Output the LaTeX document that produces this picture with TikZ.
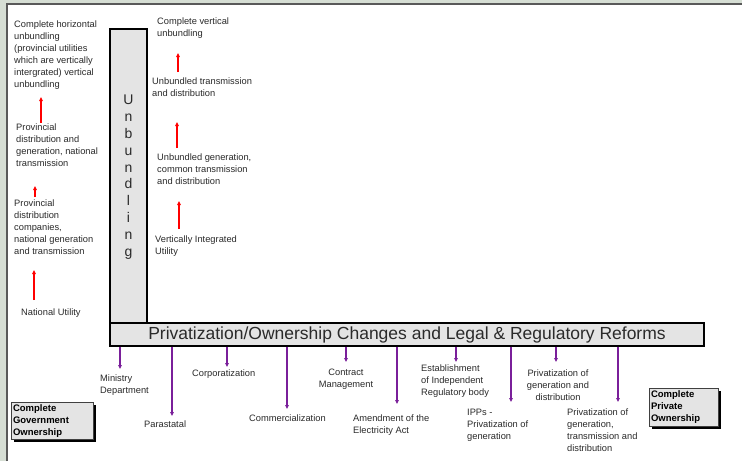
\documentclass[tikz,border=0pt]{standalone}
\usepackage{fontspec}
\setmainfont{Liberation Sans}
\usetikzlibrary{arrows.meta,shadows}
\definecolor{frameclr}{HTML}{D6DED4}
\definecolor{txtclr}{HTML}{2A2A2A}
\definecolor{boxfill}{HTML}{E4E4E4}
\definecolor{purp}{HTML}{7A1F9A}
\begin{document}
\begin{tikzpicture}[x=1pt,y=-1pt,
  txt/.style={font=\fontsize{9.3}{12}\selectfont, text=txtclr, inner sep=0pt, align=left, anchor=base west},
  ctxt/.style={font=\fontsize{9.3}{12}\selectfont, text=txtclr, inner sep=0pt, align=center, anchor=base},
  redarr/.style={draw=red, line width=1.2pt, -{Triangle[length=4pt,width=3.5pt]}},
  purarr/.style={draw=purp, line width=1.2pt, -{Triangle[length=4pt,width=3.5pt]}},
  graybox/.style={draw=black, line width=1.2pt, fill=boxfill, inner sep=0pt},
  ownbox/.style={draw=black!75, line width=0.8pt, fill=boxfill, inner sep=2pt, align=left,
    font=\fontsize{9.5}{12}\selectfont\bfseries, text=black,
    drop shadow={opacity=1, fill=black, shadow xshift=2.5pt, shadow yshift=-2.5pt}}
]
\useasboundingbox (0,0) rectangle (742,461);
\fill[frameclr] (0,0) rectangle (742,461);
\fill[white] (7,4) rectangle (742,461);
\draw[black!65, line width=1.2pt] (7,461) -- (7,4) -- (742,4);

% main boxes
\node[graybox, minimum width=37pt, minimum height=294pt] (ub) at (128.5,176) {};
\node[font=\fontsize{14}{16.8}\selectfont, text=txtclr, align=center, inner sep=0pt, anchor=base] (ul) at (128.5,256)
  {U\\n\\b\\u\\n\\d\\l\\i\\n\\g};
\node[graybox, minimum width=594pt, minimum height=23pt, font=\fontsize{17.5}{20}\selectfont, text=txtclr] (pb) at (407,334.5)
  {Privatization/Ownership Changes and Legal \& Regulatory Reforms};

% left column (anchor = baseline of last line)
\node[txt] (l1) at (14,87) {Complete horizontal\\unbundling\\(provincial utilities\\which are vertically\\intergrated) vertical\\unbundling};
\node[txt] (l2) at (16,166) {Provincial\\distribution and\\generation, national\\transmission};
\node[txt] (l3) at (14,254) {Provincial\\distribution\\companies,\\national generation\\and transmission};
\node[txt] (l4) at (21,315) {National Utility};
\coordinate (la1s) at (41,123); \coordinate (la1e) at (41,97);
\coordinate (la2s) at (35,197); \coordinate (la2e) at (35,186);
\coordinate (la3s) at (34,300); \coordinate (la3e) at (34,270);
\draw[redarr] (la1s) -- (la1e);
\draw[redarr] (la2s) -- (la2e);
\draw[redarr] (la3s) -- (la3e);

% right column
\node[txt] (r1) at (157,36) {Complete vertical\\unbundling};
\node[txt] (r2) at (152,96) {Unbundled transmission\\and distribution};
\node[txt] (r3) at (157,184) {Unbundled generation,\\common transmission\\and distribution};
\node[txt] (r4) at (155,254) {Vertically Integrated\\Utility};
\coordinate (ra1s) at (178,72); \coordinate (ra1e) at (178,53);
\coordinate (ra2s) at (177,148); \coordinate (ra2e) at (177,122);
\coordinate (ra3s) at (179,229); \coordinate (ra3e) at (179,201);
\draw[redarr] (ra1s) -- (ra1e);
\draw[redarr] (ra2s) -- (ra2e);
\draw[redarr] (ra3s) -- (ra3e);

% bottom labels
\node[txt] (b1) at (100,393) {Ministry\\Department};
\node[txt] (b2) at (144,427) {Parastatal};
\node[txt] (b3) at (192,376) {Corporatization};
\node[txt] (b4) at (249,421) {Commercialization};
\node[ctxt] (b5) at (346,387) {Contract\\Management};
\node[txt] (b6) at (353,433) {Amendment of the\\Electricity Act};
\node[txt] (b7) at (421,395) {Establishment\\of Independent\\Regulatory body};
\node[txt] (b8) at (467,439) {IPPs -\\Privatization of\\generation};
\node[ctxt] (b9) at (558,400) {Privatization of\\generation and\\distribution};
\node[txt] (b10) at (567,451) {Privatization of\\generation,\\transmission and\\distribution};

\coordinate (e1) at (120,369);
\coordinate (e2) at (172,416);
\coordinate (e3) at (227,367);
\coordinate (e4) at (287,409);
\coordinate (e5) at (346,362);
\coordinate (e6) at (397,404);
\coordinate (e7) at (456,362);
\coordinate (e8) at (511,402);
\coordinate (e9) at (556,362);
\coordinate (e10) at (618,402);
\foreach \i in {1,...,10} {
  \draw[purarr] (e\i |- pb.south) -- (e\i);
}

% ownership boxes
\node[ownbox, minimum width=82pt, minimum height=36pt, text width=78pt] (gov) at (52,421) {Complete\\Government\\Ownership};
\node[ownbox, minimum width=69pt, minimum height=38pt, text width=65pt] (priv) at (683.5,407) {Complete\\Private\\Ownership};
\end{tikzpicture}
\end{document}
